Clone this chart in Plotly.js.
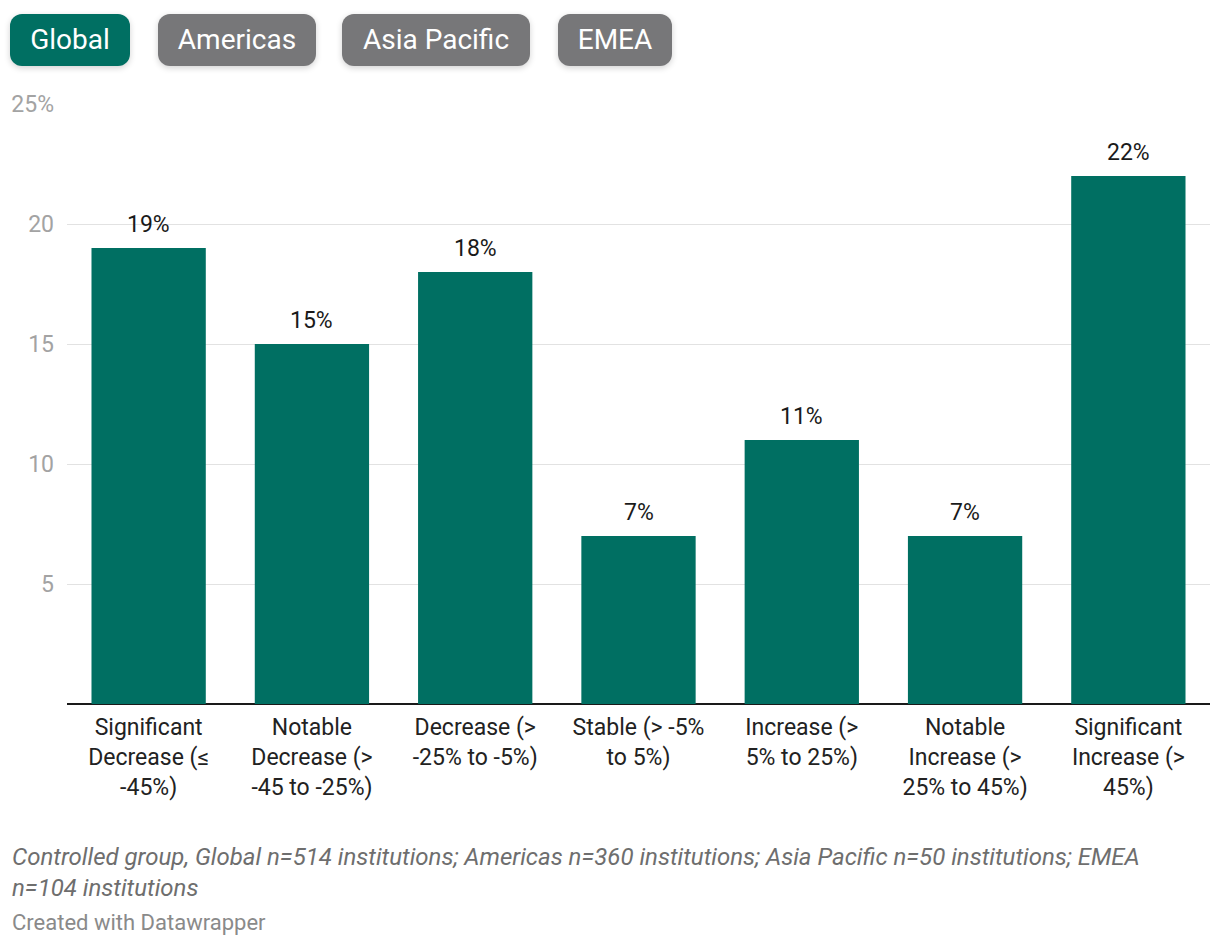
<!DOCTYPE html>
<html>
<head>
<meta charset="utf-8">
<script src="https://cdn.plot.ly/plotly-3.0.1.min.js"></script>
<style>
  body { margin: 0; background: #fff; font-family: Roboto, sans-serif; }
  #wrap { position: relative; width: 1220px; height: 946px; }
  #chart { width: 1220px; height: 946px; }
  .btn {
    position: absolute; top: 14px; height: 52px; line-height: 52px;
    text-align: center; border-radius: 12px; color: #fff; font-size: 28px;
    background: #777779; box-shadow: 0 2px 6px rgba(0,0,0,0.18);
  }
  .btn.on { background: #006f62; }
</style>
</head>
<body>
<div id="wrap">
  <div id="chart"></div>
  <div class="btn on" style="left:10px;width:120px">Global</div>
  <div class="btn" style="left:158px;width:158px">Americas</div>
  <div class="btn" style="left:342px;width:188px">Asia Pacific</div>
  <div class="btn" style="left:558px;width:114px">EMEA</div>
</div>
<script>
// categorias del eje x
const categories = [
  'Significant<br>Decrease (≤<br>-45%)',
  'Notable<br>Decrease (><br>-45 to -25%)',
  'Decrease (><br>-25% to -5%)',
  'Stable (> -5%<br>to 5%)',
  'Increase (><br>5% to 25%)',
  'Notable<br>Increase (><br>25% to 45%)',
  'Significant<br>Increase (><br>45%)'
];
const globalValues = [19, 15, 18, 7, 11, 7, 22];
const yTickVals = [5, 10, 15, 20, 25];
const yTickText = ['5', '10', '15', '20', '25%'];

const barLabels = categories.map((c, i) => ({
  x: c, y: globalValues[i], text: globalValues[i] + '%',
  xref: 'x', yref: 'y', yanchor: 'bottom', yshift: 8, showarrow: false,
  font: { size: 23, color: '#1a1a1a' }
}));

// notas al pie (y = centro en pixeles)
const footer = [
  {
    text: '<i>Controlled group, Global n=514 institutions; Americas n=360 institutions; Asia Pacific n=50 institutions; EMEA<br>n=104 institutions</i>',
    x: 10, y: 872, font: { size: 24, color: '#6e6e6e' }
  },
  {
    text: 'Created with Datawrapper',
    x: 10, y: 922, font: { size: 22, color: '#8a8a8a' }
  }
];

const footerAnns = footer.map(a => ({
  text: a.text, xref: 'paper', yref: 'paper', showarrow: false,
  x: (a.x - 67) / 1143, xanchor: 'left',
  y: (704 - a.y) / 600, yanchor: 'middle',
  font: Object.assign({ family: 'Roboto' }, a.font), align: 'left'
}));

Plotly.newPlot('chart', [{
  x: categories,
  y: globalValues,
  type: 'bar',
  marker: { color: '#006f62' },
  hoverinfo: 'none'
}], {
  width: 1220, height: 946,
  margin: { l: 67, r: 10, t: 104, b: 242 },
  paper_bgcolor: '#fff', plot_bgcolor: '#fff',
  font: { family: 'Roboto', size: 23, color: '#222' },
  bargap: 0.3,
  showlegend: false,
  xaxis: {
    type: 'category', showgrid: false, ticks: '', ticklabelstandoff: 7,
    tickfont: { size: 23, color: '#222' }, fixedrange: true
  },
  yaxis: {
    range: [0, 25], tickvals: yTickVals, ticktext: yTickText,
    showgrid: true, gridcolor: '#e2e2e2', gridwidth: 1,
    zeroline: true, zerolinecolor: '#1a1a1a', zerolinewidth: 2,
    ticks: '', ticklabelstandoff: 12,
    tickfont: { size: 23, color: '#a3a3a3' }, fixedrange: true
  },
  annotations: barLabels.concat(footerAnns)
}, { displayModeBar: false, staticPlot: true });
</script>
</body>
</html>
